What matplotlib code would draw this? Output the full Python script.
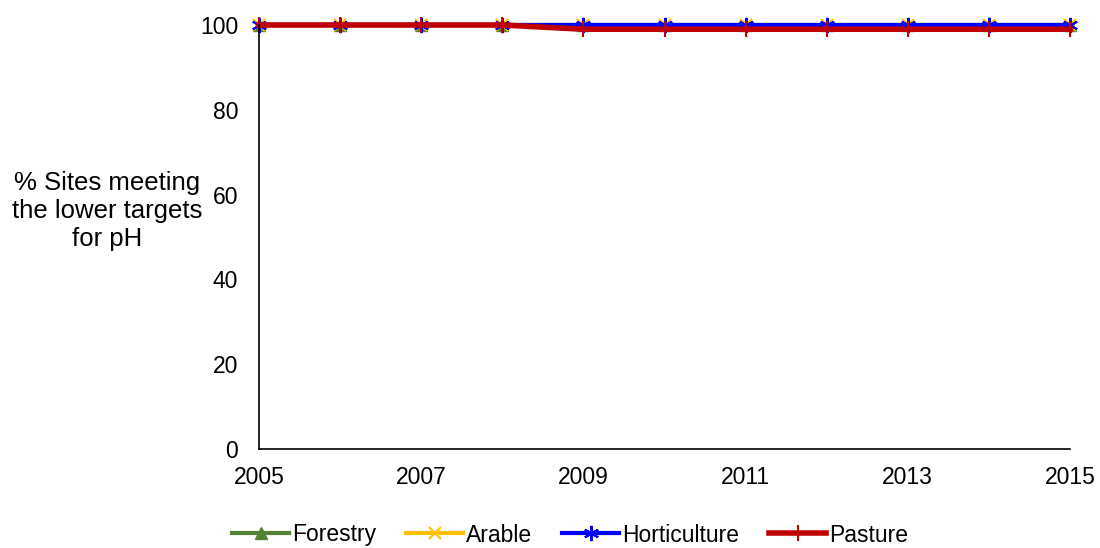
import matplotlib.pyplot as plt

plt.rcParams['font.family'] = ['Liberation Sans', 'DejaVu Sans']

years = [2005, 2006, 2007, 2008, 2009, 2010, 2011, 2012, 2013, 2014, 2015]
forestry = [100, 100, 100, 100, 100, 100, 100, 100, 100, 100, 100]
arable = [100, 100, 100, 100, 100, 100, 100, 100, 100, 100, 100]
horticulture = [100, 100, 100, 100, 100, 100, 100, 100, 100, 100, 100]
pasture = [100, 100, 100, 100, 99, 99, 99, 99, 99, 99, 99]

fs = 16.5

fig = plt.figure(figsize=(11, 5.48), dpi=100)
ax = fig.add_axes([259 / 1100, 1 - 449 / 548, (1070 - 259) / 1100, (449 - 25) / 548])

ax.plot(years, forestry, color='#548235', lw=3, marker='^', ms=9, label='Forestry', clip_on=False)
ax.plot(years, arable, color='#FFC000', lw=3, marker='x', ms=8, mew=1.5, label='Arable', clip_on=False)
ax.plot(years, horticulture, color='#0000FF', lw=3, marker=(6, 2, 0), ms=11, mew=1.5, label='Horticulture', clip_on=False)
ax.plot(years, pasture, color='#C00000', lw=4, marker='|', ms=12, mew=1.5, label='Pasture', clip_on=False)

ax.set_xlim(2005, 2015)
ax.set_ylim(0, 100)
ax.set_xticks(years[::2])
ax.set_yticks([0, 20, 40, 60, 80, 100])
ax.tick_params(axis='both', length=0, labelsize=fs)
ax.tick_params(axis='y', pad=15)
ax.tick_params(axis='x', pad=12)
for s in ['top', 'right']:
    ax.spines[s].set_visible(False)
for s in ['left', 'bottom']:
    ax.spines[s].set_linewidth(1.2)

fig.text(107 / 1100, 1 - 211 / 548, '% Sites meeting\nthe lower targets\nfor pH', ha='center', va='center',
         fontsize=18.5, linespacing=1.23)

ax.legend(loc='center', bbox_to_anchor=((570 - 259) / 811, -(535 - 449) / 424), ncol=4, frameon=False,
          fontsize=fs, handlelength=2.5, handletextpad=0.12, columnspacing=1.3, borderaxespad=0)

plt.savefig('out.png', dpi=100)
plt.close()
